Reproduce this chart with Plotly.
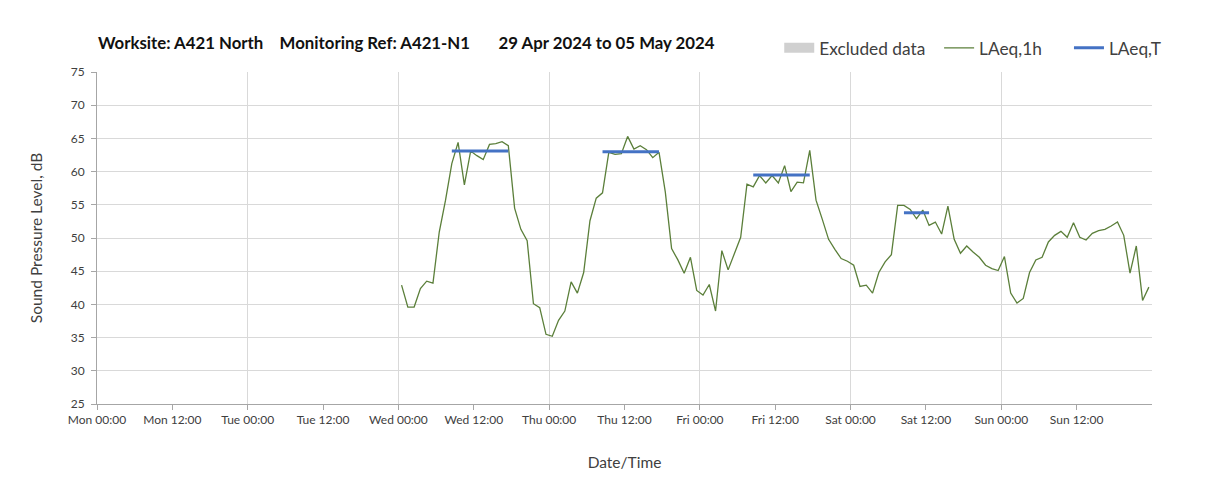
import pandas as pd
import plotly.graph_objects as go

# Hourly LAeq,1h values, Wed 01 May 2024 00:30 .. Sun 05 May 2024 23:30 (plotted mid-hour)
laeq_1h = [
    42.9, 39.6, 39.6, 42.4, 43.5, 43.2, 50.9, 55.7, 61.2, 64.4, 58.0, 63.1,
    62.4, 61.8, 64.1, 64.2, 64.5, 63.9, 54.5, 51.3, 49.6, 40.1, 39.5, 35.5,
    35.2, 37.6, 39.0, 43.4, 41.7, 44.8, 52.6, 56.0, 56.8, 62.9, 62.6, 62.7,
    65.3, 63.4, 63.9, 63.3, 62.1, 62.9, 56.9, 48.4, 46.7, 44.7, 47.1, 42.1,
    41.4, 43.0, 39.0, 48.1, 45.2, 47.6, 50.1, 58.1, 57.7, 59.4, 58.3, 59.4,
    58.3, 60.9, 57.0, 58.4, 58.3, 63.2, 55.7, 52.8, 49.8, 48.3, 46.9, 46.5,
    45.9, 42.7, 42.9, 41.7, 44.8, 46.4, 47.5, 54.9, 54.9, 54.3, 52.9, 54.2,
    51.9, 52.4, 50.6, 54.8, 49.8, 47.7, 48.8, 47.9, 47.1, 45.9, 45.4, 45.1,
    47.2, 41.7, 40.2, 40.9, 44.8, 46.7, 47.1, 49.4, 50.4, 51.0, 50.1, 52.3,
    50.1, 49.7, 50.7, 51.1, 51.3, 51.8, 52.4, 50.4, 44.7, 48.8, 40.6, 42.6,
]
first_time = "2024-05-01 00:30"

# LAeq,T over working periods
period_starts = ["2024-05-01 08:30", "2024-05-02 08:30", "2024-05-03 08:30", "2024-05-04 08:30"]
period_ends = ["2024-05-01 17:30", "2024-05-02 17:30", "2024-05-03 17:30", "2024-05-04 12:30"]
laeq_t = [63.1, 63.0, 59.5, 53.8]

tick_labels = ["Mon 00:00", "Mon 12:00", "Tue 00:00", "Tue 12:00", "Wed 00:00", "Wed 12:00",
               "Thu 00:00", "Thu 12:00", "Fri 00:00", "Fri 12:00", "Sat 00:00", "Sat 12:00",
               "Sun 00:00", "Sun 12:00"]
range_start = "2024-04-29 00:00"
range_end = "2024-05-06 00:00"

times = pd.date_range(first_time, periods=len(laeq_1h), freq="h")
tick_vals = pd.date_range(range_start, periods=len(tick_labels), freq="12h")
day_vals = pd.date_range(range_start, range_end, freq="D")

tx, ty = [], []
for s, e, v in zip(period_starts, period_ends, laeq_t):
    tx += [s, e, None]
    ty += [v, v, None]

FONT = "Lato, 'Open Sans', sans-serif"
TXT = "#404040"
GRID = "#d9d9d9"
W, H = 1197, 486   # page body has an 8px margin

fig = go.Figure()
fig.add_trace(go.Scatter(x=[None], y=[None], mode="lines", name="Excluded data" + "&nbsp;" * 2,
                         line=dict(color="#d0d0d0", width=10)))
fig.add_trace(go.Scatter(x=times, y=laeq_1h, mode="lines", name="LAeq,1h" + "&nbsp;" * 5,
                         line=dict(color="#5b7f3a", width=1.3)))
fig.add_trace(go.Scatter(x=tx, y=ty, mode="lines", name="LAeq,T",
                         line=dict(color="#4472c4", width=3)))
# invisible trace on the second x axis (daily grid)
fig.add_trace(go.Scatter(x=[range_start], y=[None], xaxis="x2", showlegend=False,
                         hoverinfo="skip"))

sp4 = "&nbsp;" * 4
sp7 = "&nbsp;" * 7
fig.update_layout(
    width=W, height=H,
    margin=dict(l=89, r=53, t=64, b=90, autoexpand=False),
    paper_bgcolor="white", plot_bgcolor="white",
    font=dict(family=FONT, color=TXT),
    title=dict(text=f"<b>Worksite: A421 North{sp4}Monitoring Ref: A421-N1{sp7}29 Apr 2024 to 05 May 2024</b>",
               x=90 / W, xanchor="left", y=1 - 35 / H, yanchor="middle",
               font=dict(size=16.8, color="#111111", family=FONT)),
    showlegend=True,
    legend=dict(orientation="h", x=1.0135, xanchor="right", y=1.072, yanchor="middle",
                font=dict(size=17.3, color=TXT), bgcolor="rgba(0,0,0,0)",
                itemwidth=30, tracegroupgap=0),
    xaxis=dict(type="date", range=[range_start, range_end],
               tickmode="array", tickvals=tick_vals, ticktext=tick_labels, tickangle=0,
               showgrid=False, ticks="outside", ticklen=5, tickcolor="#a6a6a6",
               showline=True, linecolor="#a6a6a6", linewidth=1,
               tickfont=dict(size=12, color=TXT),
               title=dict(text="Date/Time", font=dict(size=15.5, color=TXT), standoff=30),
               zeroline=False),
    xaxis2=dict(type="date", range=[range_start, range_end], overlaying="x",
                tickmode="array", tickvals=day_vals, showticklabels=False,
                showgrid=True, gridcolor=GRID, gridwidth=1, ticks="", showline=False,
                zeroline=False),
    yaxis=dict(range=[25, 75], dtick=5, showgrid=True, gridcolor=GRID, gridwidth=1,
               ticks="outside", ticklen=5, tickcolor="#a6a6a6", ticklabelstandoff=4,
               showline=True, linecolor="#a6a6a6", linewidth=1,
               tickfont=dict(size=12, color=TXT), zeroline=False,
               title=dict(text="Sound Pressure Level, dB", font=dict(size=15.5, color=TXT),
                          standoff=24)),
)

fig.write_html("out.html")
